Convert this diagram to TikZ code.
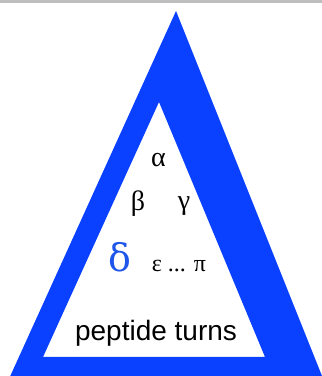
\documentclass[tikz,border=0pt]{standalone}
\usepackage{fontspec}
\setmainfont{Liberation Serif}
\newfontfamily\labelsans{Liberation Sans}
\newfontfamily\deltafont{DejaVu Serif}
\definecolor{triblue}{RGB}{10,64,255}
\definecolor{deltablue}{RGB}{30,85,235}
\definecolor{topgray}{RGB}{190,190,190}
\begin{document}
\begin{tikzpicture}[x=1pt,y=1pt,
  greek/.style={inner sep=0pt,anchor=base,font=\fontsize{28}{30}\selectfont},
  small/.style={inner sep=0pt,anchor=base,font=\fontsize{24}{26}\selectfont},
  caption/.style={inner sep=0pt,anchor=base,font=\labelsans\fontsize{28}{32}\selectfont}]
\useasboundingbox (0,0) rectangle (322,376);
\clip (0,0) rectangle (322,376);
\fill[topgray] (0,373) rectangle (322,376);
% outer and inner triangle (Delta)
\fill[triblue,even odd rule] (176,365) -- (8,-5) -- (324,-5) -- cycle
  (159,274) -- (43,19) -- (265,19) -- cycle;
\node[greek] (alpha) at (158.5,210) {α};
\node[greek] (beta) at (138,165) {β};
\node[greek] (gamma) at (184,166) {γ};
\node[greek,text=deltablue,font=\deltafont\fontsize{38}{42}\selectfont] (delta) at (120,105) {δ};
\node[small] (rest) at (179,104) {ε ... π};
\node[caption] (turns) at (156,35) {peptide turns};
\end{tikzpicture}
\end{document}
